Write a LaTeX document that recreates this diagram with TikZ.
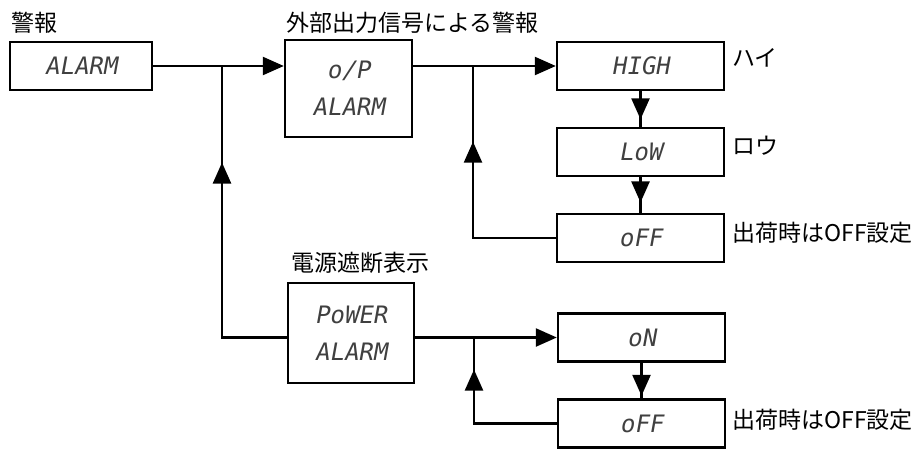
\documentclass[tikz,border=0pt]{standalone}
\usepackage{fontspec}
\setmainfont{Noto Sans CJK JP}
\newfontfamily\lcdfont{DejaVu Sans Mono}[FakeSlant=0.18]
\usetikzlibrary{arrows.meta,decorations.markings}

\begin{document}
\begin{tikzpicture}[x=0.5pt,y=-0.5pt,
    box/.style={draw,line width=1.2pt,inner sep=0pt,align=center,
      font=\lcdfont\fontsize{12}{18.5}\selectfont,text=black!75},
    sel/.style={box,minimum width=83.5pt,minimum height=24pt},
    lbl/.style={anchor=west,inner sep=0pt,font=\fontsize{11.5}{14}\selectfont},
    wire/.style={line width=1.2pt},
    arr/.style={wire,-{Triangle[length=10.5pt,width=9pt]}},
    midarr/.style={wire,postaction={decorate},decoration={markings,
      mark=at position #1 with {\arrow{Triangle[length=10.5pt,width=9pt]}}}}]
  \useasboundingbox (0,0) rectangle (913,449);
  % the menu boxes
  \node[box,minimum width=71pt,minimum height=24pt] (alarm) at (81,66) {ALARM};
  \node[box,minimum width=63.5pt,minimum height=48.5pt] (op) at (348.5,88.5) {o/P\\ALARM};
  \node[box,minimum width=63pt,minimum height=50pt] (power) at (351,333) {PoWER\\ALARM};
  \node[sel] (high) at (640.5,66) {HIGH};
  \node[sel] (low)  at (640.5,152) {LoW};
  \node[sel] (off1) at (640.5,238) {oFF};
  \node[sel] (on)   at (641.5,337.5) {oN};
  \node[sel] (off2) at (641.5,423.5) {oFF};
  % the labels
  \node[lbl] (alarmlbl) at (11,23) {警報};
  \node[lbl] (oplbl)    at (286,23) {外部出力信号による警報};
  \node[lbl] (powerlbl) at (291,263) {電源遮断表示};
  \node[lbl] (highlbl)  at (732,58) {ハイ};
  \node[lbl] (lowlbl)   at (732,146) {ロウ};
  \node[lbl] (off1lbl)  at (732,233) {出荷時はOFF設定};
  \node[lbl] (off2lbl)  at (732,420) {出荷時はOFF設定};
  % the branch points
  \coordinate (j1) at (222,66);
  \coordinate (j2) at (473,66);
  \coordinate (j3) at (474,337.5);
  % the connectors
  \draw[arr] (alarm.east) -- (alarm.east -| op.west);
  \draw[arr] (op.east |- high.west) -- (high.west);
  \draw[arr] (power.east |- on.west) -- (on.west);
  \draw[midarr=0.713] (power.west |- on.west) -| (j1);
  \draw[midarr=0.703] (off1.west) -| (j2);
  \draw[midarr=0.81] (off2.west) -| (j3);
  \draw[midarr=0.79] (high) -- (low);
  \draw[midarr=0.71] (low) -- (off1);
  \draw[midarr=0.93] (on) -- (off2);
\end{tikzpicture}
\end{document}
